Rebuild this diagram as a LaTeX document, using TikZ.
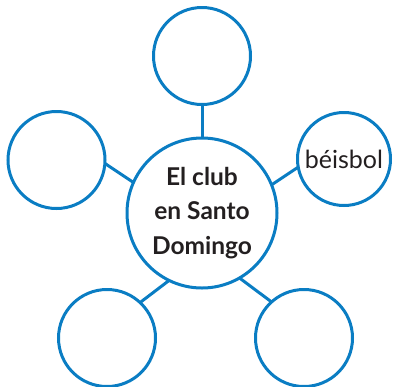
\documentclass[tikz,border=0pt]{standalone}
\usepackage{fontspec}
\setmainfont{Lato}
\definecolor{clubblue}{RGB}{10,125,195}
\definecolor{clubtext}{RGB}{35,31,32}
\begin{document}
\begin{tikzpicture}
          [x=1pt,y=-1pt,every node/.style={draw=clubblue, line width=3pt, circle, inner sep = 0pt, outer sep = 0pt, minimum size = 97pt, text=clubtext, align=center}]
        \useasboundingbox (0,0) rectangle (393,386);
        \node (c) [minimum size = 150pt, font=\fontsize{24.5}{34.5}\selectfont\bfseries] at (202,213) {El club\\en Santo\\Domingo};
        \node (t) at (202,56) {};
        \node (l) at (56.5,160) {};
        \node (r) [minimum size = 93pt, font=\fontsize{25}{28}\selectfont] at (344,159) {béisbol};
        \node (bl) at (107,338) {};
        \node (br) at (304,338) {};

        \foreach \from/\to in {c.90/t.-90, c.156/l.-4, c.22/r.190, c.-116/bl.47, c.-60/br.132}
          \draw [clubblue, line width=3pt] (\from) -- (\to);
      \end{tikzpicture}
\end{document}
